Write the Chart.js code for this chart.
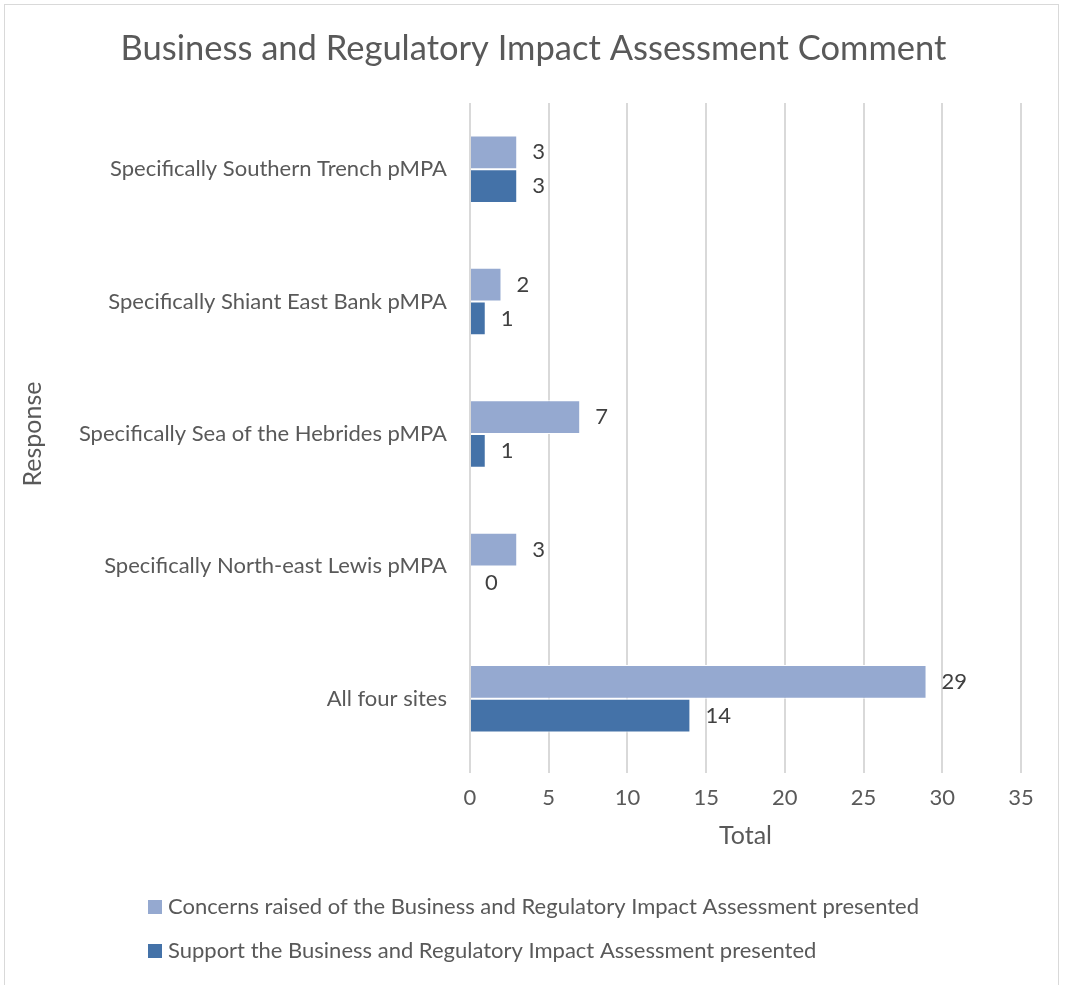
<!DOCTYPE html>
<html>
<head>
<meta charset="utf-8">
<script src="https://cdn.jsdelivr.net/npm/chart.js@4/dist/chart.umd.min.js"></script>
<style>
  body { margin: 0; background: #fff; }
  #wrap { position: relative; width: 1066px; height: 985px; overflow: hidden; }
  #frame { position: absolute; left: 4px; top: 4px; width: 1053px; height: 1000px; border: 1px solid #d9d9d9; }
  canvas { position: absolute; left: 0; top: 0; }
</style>
</head>
<body>
<div id="wrap">
  <div id="frame"></div>
  <canvas id="brChart" width="1066" height="985"></canvas>
</div>
<script>
var categories = [
    'Specifically Southern Trench pMPA',
    'Specifically Shiant East Bank pMPA',
    'Specifically Sea of the Hebrides pMPA',
    'Specifically North-east Lewis pMPA',
    'All four sites'
];
var concerns = [3, 2, 7, 3, 29];
var support = [3, 1, 1, 0, 14];
var seriesNames = [
    'Concerns raised of the Business and Regulatory Impact Assessment presented',
    'Support the Business and Regulatory Impact Assessment presented'
];
var xTicks = [0, 5, 10, 15, 20, 25, 30, 35];

var fontName = 'Lato, "Open Sans", sans-serif';
var textColor = '#595959';

// value labels next to each bar
var barLabels = {
    id: 'barLabels',
    afterDatasetsDraw: function(chart){
        var ctx = chart.ctx;
        ctx.save();
        ctx.font = '22px ' + fontName;
        ctx.fillStyle = '#404040';
        ctx.textAlign = 'left';
        ctx.textBaseline = 'middle';
        chart.data.datasets.forEach(function(ds, i){
            chart.getDatasetMeta(i).data.forEach(function(bar, j){
                ctx.fillText(ds.data[j], bar.x + 15, bar.y);
            });
        });
        ctx.restore();
    }
};

// stacked legend at the bottom, left aligned
var bottomLegend = {
    id: 'bottomLegend',
    afterDraw: function(chart){
        var ctx = chart.ctx;
        ctx.save();
        ctx.font = '22px ' + fontName;
        ctx.textBaseline = 'middle';
        ctx.textAlign = 'left';
        chart.data.datasets.forEach(function(ds, i){
            var y = 907 + i * 44;
            ctx.fillStyle = ds.backgroundColor;
            ctx.fillRect(148, y - 7, 14, 14);
            ctx.fillStyle = textColor;
            ctx.fillText(ds.label, 168, y);
        });
        ctx.restore();
    }
};

var canvas = document.getElementById('brChart').getContext('2d');
var chart = new Chart(canvas, {
    type: 'bar',
    data: {
        labels: categories,
        datasets: [
            {
                label: seriesNames[0],
                data: concerns,
                backgroundColor: '#95a9d0',
                borderColor: '#ffffff',
                borderWidth: 1,
                barPercentage: 1,
                categoryPercentage: 0.51
            },
            {
                label: seriesNames[1],
                data: support,
                backgroundColor: '#4472a8',
                borderColor: '#ffffff',
                borderWidth: 1,
                barPercentage: 1,
                categoryPercentage: 0.51
            }
        ]
    },
    options: {
        indexAxis: 'y',
        responsive: false,
        animation: false,
        layout: { padding: { left: 46, right: 45, top: 20, bottom: 135 } },
        plugins: {
            legend: { display: false },
            tooltip: { enabled: false },
            title: {
                display: true,
                text: 'Business and Regulatory Impact Assessment Comment',
                color: textColor,
                font: { family: fontName, size: 34.5, weight: 'normal' },
                padding: { top: 8, bottom: 33.6 }
            }
        },
        scales: {
            x: {
                min: 0,
                max: 35,
                afterBuildTicks: function(s){ s.ticks = xTicks.map(function(v){ return { value: v }; }); },
                afterFit: function(s){ s.height = 85; },
                grid: { color: '#d9d9d9', lineWidth: 2, tickLength: 8, drawTicks: true },
                border: { display: false },
                ticks: { color: textColor, font: { family: fontName, size: 22 }, padding: 12 },
                title: {
                    display: true,
                    text: 'Total',
                    color: textColor,
                    font: { family: fontName, size: 25 },
                    padding: { top: 4, bottom: -1 }
                }
            },
            y: {
                afterFit: function(s){ s.width = 424; },
                grid: { display: false },
                border: { display: false },
                ticks: { color: textColor, font: { family: fontName, size: 22 }, padding: 15 },
                title: {
                    display: true,
                    text: 'Response',
                    color: textColor,
                    font: { family: fontName, size: 25 },
                    padding: { top: -28, bottom: 0 }
                }
            }
        }
    },
    plugins: [barLabels, bottomLegend]
});
</script>
</body>
</html>
